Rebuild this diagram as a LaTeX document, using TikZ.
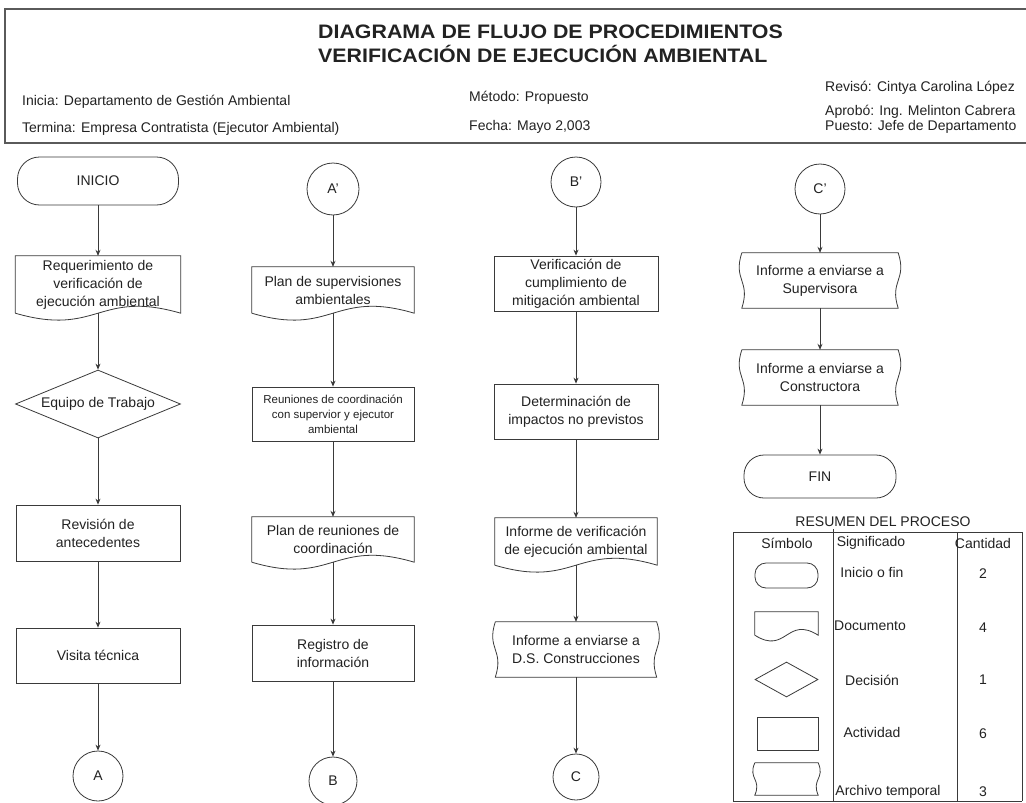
\documentclass[tikz,border=0pt]{standalone}
\usepackage{fontspec}
\setmainfont{Liberation Sans}
\newfontfamily\titlefont{Liberation Sans}[FakeStretch=1.095]
\usetikzlibrary{arrows.meta,shapes.geometric,calc}

\definecolor{ink}{HTML}{222222}
\definecolor{edge}{HTML}{3A3A3A}
\definecolor{frame}{HTML}{5A5A5A}

% document symbol: straight top and sides, wavy bottom
\newcommand\docoutline[2][22]{%
  \draw[shapeline] (#2.south west) -- (#2.north west) -- (#2.north east) -- (#2.south east)
    .. controls ($(#2.south)+(0,-#1)$) and ($(#2.south)+(0,#1)$) .. (#2.south west);}
% temporary file symbol: straight top and bottom, wavy sides
\newcommand\fileoutline[2][9]{%
  \draw[shapeline] (#2.north west) -- (#2.north east)
    .. controls ($(#2.east)+(#1,0)$) and ($(#2.east)+(-#1,0)$) .. (#2.south east)
    -- (#2.south west)
    .. controls ($(#2.west)+(#1,0)$) and ($(#2.west)+(-#1,0)$) .. (#2.north west);}

\tikzset{
  txt/.style={text=ink, font=\fontsize{14}{18}\selectfont, inner sep=0pt},
  ttl/.style={txt, anchor=west, font=\titlefont\bfseries\fontsize{19.5}{22}\selectfont},
  shapeline/.style={draw=edge, line width=0.8pt},
  proc/.style={shapeline, rectangle, align=center, txt},
  term/.style={shapeline, rectangle, align=center, txt},
  conn/.style={shapeline, circle, txt},
  decis/.style={shapeline, diamond, txt, inner sep=0pt},
  hold/.style={rectangle, align=center, txt},
  flow/.style={draw=edge, line width=0.8pt, -{Stealth[length=6pt,width=5pt]}},
}

\begin{document}
\begin{tikzpicture}[x=1pt,y=-1pt]
\useasboundingbox (0,0) rectangle (1026,803);
\fill[white] (0,0) rectangle (1026,803);

% ---------- header ----------
\draw[frame, line width=1.2pt] (5,9) rectangle (1032,143);
\node[ttl] (t1) at (318,32) {DIAGRAMA DE FLUJO DE PROCEDIMIENTOS};
\node[ttl] (t2) at (318,54) {VERIFICACIÓN DE EJECUCIÓN AMBIENTAL};
\node[txt, anchor=west] (h1) at (22,102) {Inicia: Departamento de Gestión Ambiental};
\node[txt, anchor=west] (h2) at (22,129) {Termina: Empresa Contratista (Ejecutor Ambiental)};
\node[txt, anchor=west] (h3) at (469,98) {Método: Propuesto};
\node[txt, anchor=west] (h4) at (469,127) {Fecha: Mayo 2,003};
\node[txt, anchor=west] (h5) at (825,88) {Revisó: Cintya Carolina López};
\node[txt, anchor=west] (h6) at (825,112) {Aprobó: Ing. Melinton Cabrera};
\node[txt, anchor=west] (h7) at (825,127) {Puesto: Jefe de Departamento};

% ---------- column 1 ----------
\node[term, rounded corners=22pt, minimum width=161pt, minimum height=48pt] (ini) at (98,181) {INICIO};
\node[hold, minimum width=165pt, minimum height=57pt] (d1) at (98,284.5) {Requerimiento de\\verificación de\\ejecución ambiental};
\docoutline[24]{d1}
\node[decis, minimum width=165pt, minimum height=68pt, aspect=2.43] (dec1) at (98,404) {Equipo de Trabajo};
\node[proc, minimum width=164pt, minimum height=56pt] (p1) at (98,533) {Revisión de\\antecedentes};
\node[proc, minimum width=164pt, minimum height=55pt] (p2) at (98,655.5) {Visita técnica};
\node[conn, minimum size=50pt] (cA) at (98,776) {A};

\draw[flow] (ini) -- (d1);
\draw[flow] (d1) -- (dec1);
\draw[flow] (dec1) -- (p1);
\draw[flow] (p1) -- (p2);
\draw[flow] (p2) -- (cA);

% ---------- column 2 ----------
\node[conn, minimum size=52pt] (cA2) at (333,189) {A'};
\node[hold, minimum width=162pt, minimum height=46pt] (d2) at (333,290) {Plan de supervisiones\\ambientales};
\docoutline[24]{d2}
\node[proc, minimum width=162pt, minimum height=54pt, font=\fontsize{11.5}{15}\selectfont] (p3) at (333,414) {Reuniones de coordinación\\con supervior y ejecutor\\ambiental};
\node[hold, minimum width=162pt, minimum height=45pt] (d3) at (333,539.5) {Plan de reuniones de\\coordinación};
\docoutline[24]{d3}
\node[proc, minimum width=162pt, minimum height=56pt] (p4) at (333,653) {Registro de\\información};
\node[conn, minimum size=48pt] (cB) at (333,781) {B};

\draw[flow] (cA2) -- (d2);
\draw[flow] (d2) -- (p3);
\draw[flow] (p3) -- (d3);
\draw[flow] (d3) -- (p4);
\draw[flow] (p4) -- (cB);

% ---------- column 3 ----------
\node[conn, minimum size=50pt] (cB2) at (576,182) {B'};
\node[proc, minimum width=164pt, minimum height=55pt] (p5) at (576,283.5) {Verificación de\\cumplimiento de\\mitigación ambiental};
\node[proc, minimum width=164pt, minimum height=55pt] (p6) at (576,411.5) {Determinación de\\impactos no previstos};
\node[hold, minimum width=162pt, minimum height=47pt] (d4) at (576,541.5) {Informe de verificación\\de ejecución ambiental};
\docoutline[24]{d4}
\node[hold, minimum width=161pt, minimum height=55pt] (f1) at (576,649.5) {Informe a enviarse a\\D.S. Construcciones};
\fileoutline{f1}
\node[conn, minimum size=46pt] (cC) at (576,777) {C};

\draw[flow] (cB2) -- (p5);
\draw[flow] (p5) -- (p6);
\draw[flow] (p6) -- (d4);
\draw[flow] (d4) -- (f1);
\draw[flow] (f1) -- (cC);

% ---------- column 4 ----------
\node[conn, minimum size=50pt] (cC2) at (820,189) {C'};
\node[hold, minimum width=156pt, minimum height=55pt] (f2) at (820,280.5) {Informe a enviarse a\\Supervisora};
\fileoutline{f2}
\node[hold, minimum width=156pt, minimum height=55pt] (f3) at (820,377.5) {Informe a enviarse a\\Constructora};
\fileoutline{f3}
\node[term, rounded corners=20pt, minimum width=152pt, minimum height=43pt] (fin) at (820,476.5) {FIN};

\draw[flow] (cC2) -- (f2);
\draw[flow] (f2) -- (f3);
\draw[flow] (f3) -- (fin);

% ---------- process summary ----------
\node[txt] (rt) at (883,522) {RESUMEN DEL PROCESO};
\draw[shapeline] (733,532) -- (1022,532);
\draw[shapeline] (733,532) -- (733,801);
\draw[shapeline] (833,529) -- (833,801);
\draw[shapeline] (957,532) -- (957,801);
\draw[shapeline] (1022,532) -- (1022,801);
\draw[shapeline] (733,801) -- (1022,801);

\node[txt] (hs) at (787,543) {Símbolo};
\node[txt] (hm) at (871,543) {Significado};
\node[txt] (hc) at (983,543) {Cantidad};

\node[term, rounded corners=11pt, minimum width=63pt, minimum height=25pt] (s1) at (786.5,575.5) {};
\node[hold, minimum width=63pt, minimum height=23pt] (s2) at (786.5,623.5) {};
\docoutline[20]{s2}
\node[decis, minimum width=63pt, minimum height=35pt, aspect=1.8] (s3) at (786.5,679.5) {};
\node[proc, minimum width=61pt, minimum height=33pt] (s4) at (787.5,733.5) {};
\node[hold, minimum width=63pt, minimum height=32pt] (s5) at (786.5,779) {};
\fileoutline[7]{s5}

\node[txt] (m1) at (872,572) {Inicio o fin};
\node[txt] (m2) at (870,626) {Documento};
\node[txt] (m3) at (872,680) {Decisión};
\node[txt] (m4) at (872,732) {Actividad};
\node[txt] (m5) at (888,792) {Archivo temporal};

\node[txt] (q1) at (983,574) {2};
\node[txt] (q2) at (983,628) {4};
\node[txt] (q3) at (983,680) {1};
\node[txt] (q4) at (983,734) {6};
\node[txt] (q5) at (983,792) {3};
\end{tikzpicture}
\end{document}
